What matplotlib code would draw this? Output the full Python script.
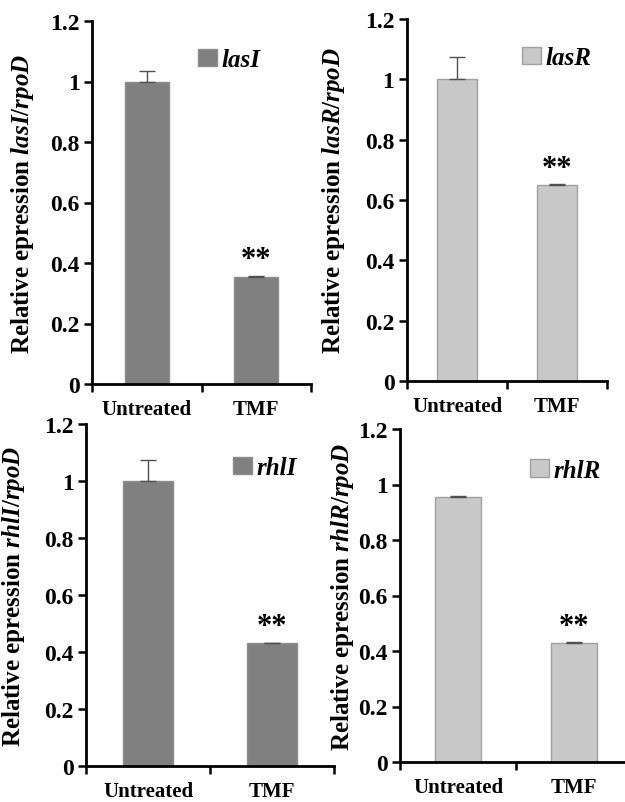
import matplotlib
matplotlib.use("Agg")
import matplotlib.pyplot as plt
from matplotlib.patches import Patch

plt.rcParams['font.family'] = ['Liberation Serif', 'DejaVu Serif']
plt.rcParams['font.weight'] = 'bold'
plt.rcParams['mathtext.fontset'] = 'custom'
plt.rcParams['mathtext.it'] = 'Liberation Serif:italic:bold'
plt.rcParams['mathtext.rm'] = 'Liberation Serif:bold'

categories = ["Untreated", "TMF"]
genes = ["lasI", "lasR", "rhlI", "rhlR"]
values = {
    "lasI": [1.0, 0.355],
    "lasR": [1.0, 0.65],
    "rhlI": [1.0, 0.43],
    "rhlR": [0.955, 0.43],
}
errors = {
    "lasI": [0.036, 0.003],
    "lasR": [0.073, 0.003],
    "rhlI": [0.072, 0.002],
    "rhlR": [0.002, 0.002],
}
signif = ["", "**"]
yticks = [0, 0.2, 0.4, 0.6, 0.8, 1.0, 1.2]
yticklabels = ["0", "0.2", "0.4", "0.6", "0.8", "1", "1.2"]

W, H = 625, 803
fig = plt.figure(figsize=(W / 100, H / 100), dpi=100)

# pixel boxes: left, right, top, bottom
boxes = {
    "lasI": (92, 311, 22, 385),
    "lasR": (407, 607, 20, 382),
    "rhlI": (86, 334, 425, 767),
    "rhlR": (400, 632, 430, 763),
}
colors = {"lasI": "#808080", "lasR": "#c8c8c8", "rhlI": "#808080", "rhlR": "#c8c8c8"}
edges = {"lasI": "#8e8e8e", "lasR": "#a0a0a0", "rhlI": "#8e8e8e", "rhlR": "#a0a0a0"}
leg_pos = {"lasI": (0.484, 0.925), "lasR": (0.575, 0.925), "rhlI": (0.593, 0.905), "rhlR": (0.56, 0.91)}
lab_x = {"lasI": -0.255, "lasR": -0.30, "rhlI": -0.237, "rhlR": -0.19}

for g in genes:
    l, r, t, b = boxes[g]
    ax = fig.add_axes([l / W, 1 - b / H, (r - l) / W, (b - t) / H])
    x = [0, 1]
    ax.bar(x, values[g], width=0.4, color=colors[g], edgecolor=edges[g], linewidth=1.0, zorder=2)
    ax.errorbar(x, values[g], yerr=[[0, 0], errors[g]], fmt='none', ecolor='#505050',
                elinewidth=1.0, capsize=6, capthick=1.0, zorder=3)
    for xi, v, e, s in zip(x, values[g], errors[g], signif):
        if s:
            ax.annotate(s, (xi, v + e), xytext=(0, 1), textcoords='offset points',
                        ha='center', va='bottom', fontsize=22, fontweight='bold')
    ax.set_xlim(-0.5, 1.5)
    ax.set_ylim(0, 1.2)
    ax.set_yticks(yticks)
    ax.set_yticklabels(yticklabels, fontsize=17, fontweight='bold')
    ax.set_xticks([-0.5, 0.5, 1.5])
    ax.set_xticklabels([])
    ax.set_xticks(x, minor=True)
    ax.set_xticklabels(categories, minor=True, fontsize=15, fontweight='bold')
    ax.tick_params(axis='x', which='minor', length=0, pad=11)
    ax.tick_params(axis='x', which='major', direction='out', length=6, width=1.8)
    ax.tick_params(axis='y', direction='out', length=6, width=1.8, pad=3)
    for sp in ['top', 'right']:
        ax.spines[sp].set_visible(False)
    for sp in ['left', 'bottom']:
        ax.spines[sp].set_linewidth(2.0)
    ax.set_ylabel(r"Relative epression $\mathit{" + g + r"/rpoD}$", fontsize=18, fontweight='bold')
    ax.yaxis.set_label_coords(lab_x[g], 0.5)
    handle = Patch(facecolor=colors[g], edgecolor=edges[g], linewidth=1.0)
    ax.legend([handle], [g], loc='upper left', bbox_to_anchor=leg_pos[g], frameon=False,
              prop={'family': 'Liberation Serif', 'style': 'italic', 'weight': 'bold', 'size': 18},
              handlelength=0.75, handleheight=0.7, handletextpad=0.2, borderpad=0, borderaxespad=0)

fig.savefig("out.png", dpi=100)
